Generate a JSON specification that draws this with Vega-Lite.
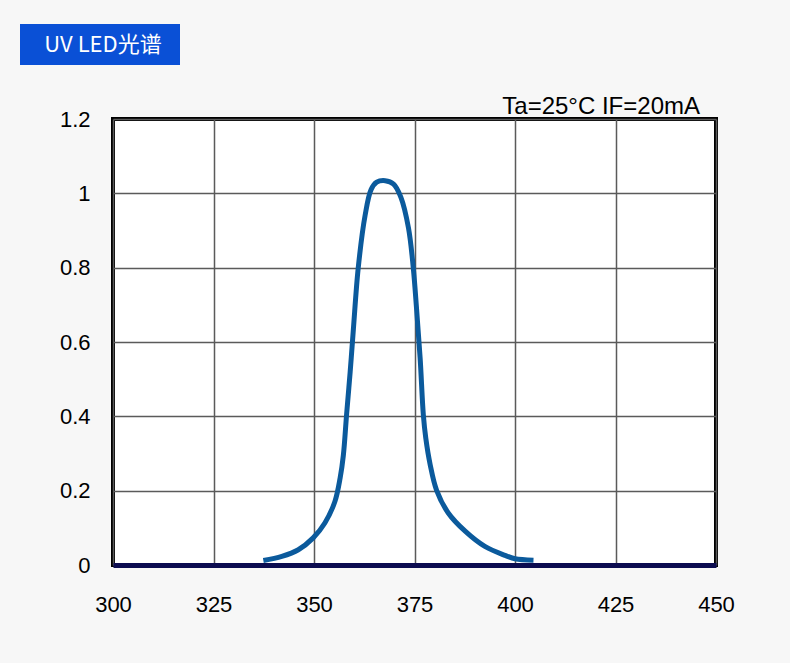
{
  "$schema": "https://vega.github.io/schema/vega-lite/v6.json",
  "description": "UV LED spectrum, relative intensity vs wavelength.",
  "background": "#f7f7f7",
  "padding": {"left": 20, "top": 24, "right": 55, "bottom": 46},
  "spacing": 28,
  "vconcat": [
    {
      "width": 160,
      "height": 41,
      "view": {"fill": "#0a50d6", "stroke": null},
      "data": {"values": [{"label": "UV LED光谱"}]},
      "mark": {
        "type": "text",
        "color": "white",
        "font": "Noto Sans CJK SC",
        "fontSize": 22,
        "baseline": "middle",
        "align": "center",
        "dx": 3
      },
      "encoding": {"text": {"field": "label", "type": "nominal"}}
    },
    {
      "spacing": 0,
      "hconcat": [
        {
          "width": 1,
          "height": 1,
          "view": {"stroke": null},
          "data": {"values": [{"label": ""}]},
          "mark": {"type": "text"},
          "encoding": {"text": {"field": "label", "type": "nominal"}}
        },
        {
          "width": 603,
          "height": 446,
          "view": {"fill": "white", "stroke": "#000", "strokeWidth": 4},
          "title": {
            "text": "Ta=25°C IF=20mA",
            "anchor": "end",
            "frame": "group",
            "font": "Liberation Sans",
            "fontSize": 24,
            "fontWeight": "normal",
            "color": "#000",
            "offset": -11,
            "dx": -16
          },
          "data": {
            "values": [
              {"wavelength": 337.4, "intensity": 0.012},
              {"wavelength": 342.0, "intensity": 0.023},
              {"wavelength": 346.1, "intensity": 0.041},
              {"wavelength": 349.8, "intensity": 0.073},
              {"wavelength": 352.7, "intensity": 0.113},
              {"wavelength": 355.2, "intensity": 0.171},
              {"wavelength": 356.5, "intensity": 0.234},
              {"wavelength": 357.3, "intensity": 0.295},
              {"wavelength": 358.1, "intensity": 0.404},
              {"wavelength": 359.0, "intensity": 0.52},
              {"wavelength": 359.8, "intensity": 0.635},
              {"wavelength": 361.0, "intensity": 0.799},
              {"wavelength": 362.7, "intensity": 0.94},
              {"wavelength": 364.2, "intensity": 1.01},
              {"wavelength": 365.6, "intensity": 1.03},
              {"wavelength": 367.7, "intensity": 1.034},
              {"wavelength": 369.8, "intensity": 1.025},
              {"wavelength": 371.6, "intensity": 0.99},
              {"wavelength": 373.5, "intensity": 0.907},
              {"wavelength": 374.7, "intensity": 0.799},
              {"wavelength": 375.5, "intensity": 0.691},
              {"wavelength": 376.4, "intensity": 0.557},
              {"wavelength": 377.2, "intensity": 0.404},
              {"wavelength": 377.8, "intensity": 0.342},
              {"wavelength": 378.9, "intensity": 0.27},
              {"wavelength": 380.5, "intensity": 0.201},
              {"wavelength": 383.4, "intensity": 0.14},
              {"wavelength": 387.6, "intensity": 0.091},
              {"wavelength": 392.5, "intensity": 0.05},
              {"wavelength": 397.5, "intensity": 0.026},
              {"wavelength": 400.0, "intensity": 0.017},
              {"wavelength": 404.6, "intensity": 0.013}
            ]
          },
          "mark": {
            "type": "line",
            "color": "#0b5a9c",
            "strokeWidth": 5,
            "interpolate": "catmull-rom"
          },
          "encoding": {
            "x": {
              "field": "wavelength",
              "type": "quantitative",
              "scale": {"domain": [300, 450], "nice": false, "zero": false},
              "axis": {
                "title": null,
                "values": [300, 325, 350, 375, 400, 425, 450],
                "grid": true,
                "gridColor": "#5a5a5a",
                "gridWidth": 1.5,
                "ticks": false,
                "tickSize": 0,
                "domainColor": "#0c0c50",
                "domainWidth": 5,
                "labelFlush": false,
                "labelFont": "Liberation Sans",
                "labelFontSize": 22,
                "labelColor": "#000",
                "labelPadding": 29,
                "labelBaseline": "top"
              }
            },
            "y": {
              "field": "intensity",
              "type": "quantitative",
              "scale": {"domain": [0, 1.2], "nice": false},
              "axis": {
                "title": null,
                "values": [0, 0.2, 0.4, 0.6, 0.8, 1, 1.2],
                "format": "~g",
                "grid": true,
                "gridColor": "#5a5a5a",
                "gridWidth": 1.5,
                "ticks": false,
                "tickSize": 0,
                "domain": false,
                "minExtent": 90,
                "labelFont": "Liberation Sans",
                "labelFontSize": 22,
                "labelColor": "#000",
                "labelPadding": 23
              }
            }
          }
        }
      ]
    }
  ]
}
